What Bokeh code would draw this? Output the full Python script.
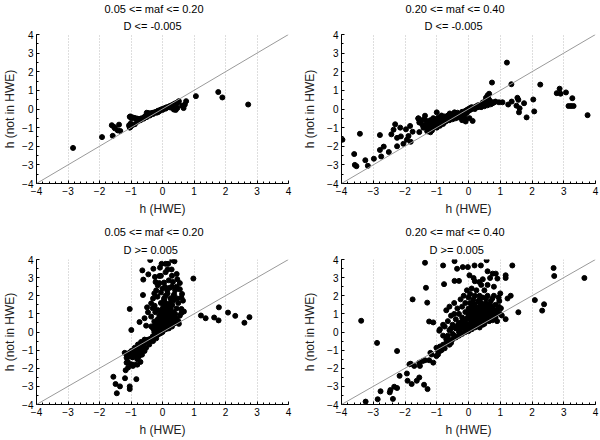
from bokeh.plotting import figure
from bokeh.models import Range1d, FixedTicker, Slope, Title
from bokeh.layouts import row, column
from bokeh.embed import file_html
from bokeh.resources import INLINE

# ---------------- data: (h (HWE), h (not in HWE)) ----------------
maf_lo_D_neg = [
    (-2.84, -2.09), (-1.92, -1.51), (-1.58, -1.44), (-1.61, -0.87), (-1.54, -0.96),
    (-1.38, -0.84), (-1.42, -1.15), (-1.34, -1.18), (-1.51, -1.04), (-1.04, -1.0),
    (-1.06, -0.87), (-1.01, -0.78), (-0.88, -0.82), (-1.04, -0.42), (-0.99, -0.49),
    (-1.05, -0.92), (-1.02, -0.97), (-0.97, -0.88),
    (0.75, 0.42), (0.71, 0.24), (0.62, 0.18), (0.67, 0.05), (0.42, -0.05), (0.47, 0.05),
    (0.36, -0.03), (1.06, 0.69), (1.77, 0.91), (1.90, 0.62), (2.72, 0.24),
    (-1.02, -0.40), (-0.95, -0.45), (-0.90, -0.48), (-0.85, -0.50), (-0.80, -0.52),
    (-0.75, -0.53), (-0.70, -0.52), (-0.65, -0.50), (-0.60, -0.47), (-0.55, -0.38),
    (-0.50, -0.30), (-0.50, -0.20), (-0.45, -0.22), (-0.40, -0.25), (-0.35, -0.22),
    (-0.30, -0.20), (-0.25, -0.18), (-0.20, -0.15), (-0.15, -0.10), (-0.10, -0.07),
    (-0.05, -0.03), (0.00, 0.00), (0.05, 0.03), (0.10, 0.07), (0.15, 0.10),
    (0.20, 0.13), (0.25, 0.17), (0.30, 0.20), (0.35, 0.25), (0.40, 0.30),
    (0.45, 0.33), (0.50, 0.38), (0.52, 0.42),
    (-0.80, -0.68), (-0.70, -0.60), (-0.60, -0.52), (-0.50, -0.43), (-0.40, -0.35),
    (-0.30, -0.27), (-0.20, -0.20), (-0.10, -0.12), (0.00, -0.05), (0.10, 0.02),
    (0.20, 0.10), (0.30, 0.15), (0.40, 0.25), (0.45, 0.30), (-0.15, -0.18),
    (0.25, 0.08), (-0.55, -0.45), (-0.45, -0.30),
]

maf_hi_D_neg = [
    (-3.97, -1.65), (-3.60, -2.42), (-3.58, -3.00), (-3.53, -3.07), (-3.42, -1.33),
    (-3.25, -2.75), (-3.17, -3.05), (-2.98, -2.67), (-2.79, -1.40), (-2.75, -2.55),
    (-2.79, -2.20), (-2.67, -2.02), (-2.51, -2.31), (-2.43, -1.36), (-2.31, -0.82),
    (-2.36, -1.11), (-2.25, -1.55), (-2.25, -2.00), (-2.15, -1.00), (-2.13, -1.47),
    (-2.05, -1.87), (-1.97, -1.09), (-1.94, -1.65), (-1.89, -1.45), (-1.84, -0.91),
    (-1.82, -1.76), (-1.76, -1.22), (-1.58, -0.51), (-1.53, -0.73), (-1.55, -1.24),
    (-1.42, -1.00), (-1.37, -0.36), (-1.32, -0.64), (-1.29, -1.18), (-1.22, -0.82),
    (-1.11, -0.49), (-1.00, -0.18), (-0.59, -0.24), (-0.44, -0.18), (-0.12, -0.49),
    (0.03, -0.49), (0.13, -0.64), (-0.09, -0.67), (0.74, 1.42), (1.21, 2.49),
    (1.35, 1.33), (1.07, 0.36), (1.25, 0.24), (1.36, 0.40), (1.54, 0.60),
    (1.57, 0.49), (1.51, 0.18), (1.61, 0.04), (1.59, -0.18), (1.75, 0.31),
    (1.83, -0.45), (2.04, 0.51), (2.07, -0.13), (2.26, 1.31), (2.78, 0.85),
    (2.87, 1.09), (2.90, 0.82), (3.07, 0.89), (3.27, 0.58), (3.15, 0.16),
    (3.23, 0.16), (3.31, 0.16), (3.75, -0.33), (0.81, 0.36), (0.96, 0.36),
    (0.60, 0.73), (0.65, 0.82),
    (-1.58, -0.50), (-1.55, -0.72), (-1.50, -0.60), (-1.45, -0.85), (-1.40, -0.55),
    (-1.35, -0.90), (-1.30, -0.70), (-1.25, -1.05), (-1.20, -0.60), (-1.20, -0.90),
    (-1.15, -1.15), (-1.10, -0.75), (-1.10, -1.00), (-1.05, -0.55), (-1.05, -0.90),
    (-1.00, -0.70), (-1.00, -1.00), (-0.95, -0.45), (-0.95, -0.85), (-0.90, -0.60),
    (-0.90, -0.90), (-0.85, -0.35), (-0.85, -0.75), (-0.80, -0.55), (-0.80, -0.80),
    (-0.75, -0.40), (-0.75, -0.70), (-0.70, -0.50), (-0.70, -0.65), (-0.65, -0.35),
    (-0.65, -0.60), (-0.60, -0.45), (-0.60, -0.60), (-0.55, -0.30), (-0.55, -0.50),
    (-0.50, -0.40), (-0.50, -0.55), (-0.45, -0.25), (-0.45, -0.45), (-0.40, -0.35),
    (-0.40, -0.50), (-0.35, -0.20), (-0.35, -0.40), (-0.30, -0.30), (-0.30, -0.45),
    (-0.25, -0.25), (-0.25, -0.35), (-0.20, -0.15), (-0.20, -0.30), (-0.15, -0.20),
    (-0.10, -0.10), (-0.10, -0.25), (-0.05, -0.05), (-0.05, -0.20), (0.00, -0.10),
    (0.00, 0.00), (0.05, -0.05), (0.05, 0.05), (0.10, 0.00), (0.10, 0.10),
    (0.15, 0.05), (0.20, 0.10), (0.20, 0.00), (0.25, 0.15), (0.30, 0.10),
    (0.30, 0.20), (0.35, 0.20), (0.40, 0.25), (0.40, 0.10), (0.45, 0.35),
    (0.50, 0.30), (0.50, 0.15), (0.55, 0.45), (0.60, 0.35), (0.60, 0.20),
    (0.65, 0.50), (0.70, 0.40), (0.70, 0.25), (0.55, 0.60), (0.62, 0.65),
    (0.75, 0.30), (0.85, 0.40), (-1.30, -1.20), (-1.20, -1.25), (-0.20, -0.60),
    (-0.15, -0.45),
]

maf_lo_D_pos = [
    (-0.39, 3.97), (0.10, 3.76), (0.18, 3.76), (0.31, 3.97), (0.38, 3.90),
    (-0.64, 3.40), (-0.29, 3.49), (-0.08, 3.55), (-0.03, 3.76), (0.16, 3.45),
    (0.29, 3.45), (-0.45, 3.18), (-0.61, 2.89), (-0.24, 3.04), (-0.10, 3.09),
    (0.98, 2.95), (0.47, 2.91), (0.33, 2.76), (-0.22, 2.76), (0.05, 2.73),
    (-0.15, 2.58), (0.08, 2.49), (0.23, 2.44), (0.55, 2.36), (-0.62, 2.04),
    (-0.26, 2.13), (-0.05, 2.18), (0.16, 2.13), (0.37, 2.07), (-0.16, 1.95),
    (0.05, 1.85), (0.47, 1.85), (0.65, 1.73), (-0.36, 1.58), (-1.04, 1.27),
    (-0.49, 1.36), (0.60, 1.27), (0.68, 1.13), (-0.31, 1.31), (-0.16, 1.22),
    (0.26, 1.31), (0.31, 1.49), (-0.46, 1.09), (-0.23, 1.09), (-0.03, 1.04),
    (0.16, 0.95), (0.37, 0.95), (-0.57, 0.76), (-0.36, 0.85), (-0.10, 0.76),
    (0.05, 0.76), (0.24, 0.67), (-0.73, 0.55), (-0.52, 0.35), (-0.26, 0.58),
    (-0.05, 0.49), (0.10, 0.58), (0.52, 0.45), (-0.99, 0.11), (-0.36, 0.31),
    (-0.21, 0.22), (-0.10, 0.13), (0.05, 0.31), (-0.26, 0.00), (0.00, 0.00),
    (-0.30, 0.20), (-0.25, 0.35), (-0.20, 0.10), (-0.20, 0.50), (-0.15, 0.30),
    (-0.15, 0.70), (-0.10, 0.05), (-0.10, 0.45), (-0.10, 0.90), (-0.05, 0.20),
    (-0.05, 0.60), (-0.05, 1.10), (0.00, 0.10), (0.00, 0.40), (0.00, 0.80),
    (0.00, 1.30), (0.05, 0.25), (0.05, 0.55), (0.05, 1.00), (0.10, 0.15),
    (0.10, 0.40), (0.10, 0.70), (0.10, 1.15), (0.10, 1.60), (0.15, 0.30),
    (0.15, 0.60), (0.15, 0.90), (0.20, 0.20), (0.20, 0.50), (0.20, 0.80),
    (0.20, 1.20), (0.25, 0.35), (0.25, 0.65), (0.25, 1.05), (0.30, 0.30),
    (0.30, 0.55), (0.30, 0.85), (0.35, 0.45), (0.35, 0.75), (0.40, 0.50),
    (0.40, 1.00), (0.45, 0.70), (0.45, 1.30), (0.50, 0.60), (0.55, 0.90),
    (0.60, 1.05), (0.50, 1.60), (0.35, 1.75), (0.25, 1.60), (0.40, 2.30),
    (0.30, 2.50), (0.20, 2.85), (0.15, 2.30), (0.00, 2.40), (-0.10, 2.70),
    (-0.20, 2.30), (-0.30, 1.85), (-0.25, 1.45), (0.05, 1.75), (0.60, 1.90),
    (0.55, 2.70), (0.45, 2.50), (-0.05, 3.10), (0.10, 3.30), (0.30, 3.10),
    (0.45, 3.20), (0.35, 2.00), (0.62, 2.10),
    (-0.20, 0.00), (-0.05, 0.35), (0.05, 0.65), (0.15, 0.45), (0.25, 0.90),
    (0.35, 1.10), (0.20, 1.40), (0.00, 0.95), (-0.15, 0.50), (0.30, 0.70),
    (0.40, 0.75), (0.15, 1.30), (0.05, 1.45), (-0.05, 1.60), (0.25, 1.85),
    (0.10, 2.00),
    (-0.05, -0.05), (-0.10, -0.10), (-0.15, -0.15), (-0.20, -0.20), (-0.25, -0.20),
    (-0.30, -0.30), (-0.35, -0.35), (-0.40, -0.40), (-0.45, -0.42), (-0.50, -0.45),
    (-0.55, -0.55), (-0.60, -0.60), (-0.65, -0.70), (-0.70, -0.72), (-0.75, -0.80),
    (-0.80, -0.85), (-0.85, -0.95), (-0.90, -1.00), (-0.95, -1.05), (-1.00, -1.10),
    (-1.05, -1.15), (-1.10, -1.20), (-1.15, -1.20),
    (-0.68, -0.55), (-0.78, -0.69), (-0.88, -0.87), (-0.99, -1.05), (-1.09, -1.24),
    (-1.14, -1.42), (-0.99, -1.24), (-0.88, -1.24), (-0.78, -1.05), (-0.68, -0.96),
    (-0.57, -1.05), (-0.52, -0.87), (-0.42, -0.69), (-0.47, -0.55), (-0.57, -0.42),
    (-0.36, -0.42), (-0.31, -0.24), (-0.30, -0.50), (-0.60, -0.90), (-0.20, -0.35),
    (-1.20, -1.15), (-1.10, -1.30), (-1.05, -1.35), (-0.95, -1.40), (-0.90, -1.10),
    (-0.85, -1.30), (-0.80, -1.50), (-0.75, -1.35), (-0.70, -1.20), (-0.65, -1.25),
    (-0.90, -1.80), (-0.70, -1.65), (-0.80, -1.80), (-1.10, -1.65),
    (-1.14, -1.69), (-1.09, -1.96), (-1.17, -2.11), (-0.99, -1.78), (-0.94, -1.87),
    (-0.83, -2.60), (-1.19, -2.55), (-1.56, -2.47), (-1.49, -2.87), (-1.35, -3.00),
    (-1.04, -3.00), (-1.04, -3.15), (-1.45, -3.38),
    (1.22, 0.91), (1.37, 0.76), (1.64, 0.80), (1.78, 0.64), (1.79, 1.36),
    (2.08, 1.07), (2.31, 0.89), (2.60, 0.51), (2.76, 0.82),
]

maf_hi_D_pos = [
    (-3.38, 0.62), (-2.88, -0.60), (-2.25, -1.05), (-3.24, -3.84), (-2.86, -3.71),
    (-2.77, -3.27), (-2.48, -3.33), (-2.46, -3.20), (-2.38, -3.69), (-2.34, -3.02),
    (-2.25, -3.09), (-2.17, -2.42), (-1.94, -2.29), (-1.92, -2.69), (-1.79, -2.87),
    (-1.63, -2.69), (-1.55, -2.51), (-1.40, -2.91), (-1.29, -3.15), (-1.86, -1.78),
    (-1.82, -1.75), (-1.71, -1.87), (-1.55, -1.69), (-1.44, -1.60), (-1.37, -1.56),
    (-1.24, -1.56), (-1.11, -1.69), (-1.53, -1.87), (-1.20, -1.15), (-1.01, -1.33),
    (-0.96, -1.05), (-1.01, -0.87), (-0.96, -1.24), (-0.90, -1.05), (-1.16, -1.24),
    (-1.76, 1.80), (-1.37, 3.82), (-1.34, 2.44), (-1.30, 1.62), (-1.24, 0.58),
    (-1.11, 0.53), (-0.92, 0.07), (-0.80, 3.67), (-0.77, 2.64), (-0.44, 3.91),
    (-0.36, 3.49), (-0.18, 3.58), (-0.02, 3.58), (0.19, 3.67), (0.39, 3.67),
    (0.57, 3.96), (0.60, 3.35), (0.76, 3.22), (0.86, 3.22), (0.91, 2.95),
    (1.17, 3.13), (1.17, 2.98), (1.38, 3.67), (-0.44, 2.82), (-0.30, 2.82),
    (0.03, 3.13), (0.16, 2.98), (0.34, 2.76), (0.45, 2.91), (0.68, 2.98),
    (2.68, 3.53), (2.70, 3.09), (3.65, 2.98), (2.09, 1.76), (2.38, 1.53),
    (2.32, 1.18), (1.57, 1.09), (1.17, 0.71), (1.05, 0.91), (1.02, 1.31),
    (1.33, 2.00), (1.23, 1.85), (1.00, 2.13), (0.97, 1.71),
    (-0.90, -0.80), (-0.80, -0.70), (-0.70, -0.60), (-0.60, -0.45), (-0.50, -0.40),
    (-0.40, -0.30), (-0.30, -0.20), (-0.20, -0.10), (-0.10, 0.00), (0.00, 0.05),
    (0.10, 0.15), (0.20, 0.25), (0.30, 0.35), (0.40, 0.45), (0.50, 0.55),
    (0.60, 0.65), (0.70, 0.80), (0.80, 0.90), (-0.75, -0.90), (-0.85, -1.00),
    (-0.60, -0.70), (-0.55, -0.60),
    (-0.90, 0.15), (-0.80, -0.20), (-0.75, 0.30), (-0.70, -0.40), (-0.65, 0.60),
    (-0.60, 0.10), (-0.55, 0.90), (-0.50, -0.10), (-0.50, 0.40), (-0.45, 1.00),
    (-0.45, 1.60), (-0.40, 0.20), (-0.40, 0.70), (-0.35, 1.30), (-0.30, 0.00),
    (-0.30, 0.50), (-0.30, 1.00), (-0.25, 1.80), (-0.20, 0.30), (-0.20, 0.80),
    (-0.20, 1.40), (-0.15, 2.00), (-0.10, 0.20), (-0.10, 0.60), (-0.10, 1.10),
    (-0.10, 1.60), (-0.05, 2.30), (0.00, 0.40), (0.00, 0.90), (0.00, 1.30),
    (0.00, 1.90), (0.05, 0.20), (0.05, 0.70), (0.05, 1.60), (0.05, 2.10),
    (0.10, 0.50), (0.10, 1.00), (0.10, 1.40), (0.10, 2.40), (0.15, 0.30),
    (0.15, 0.80), (0.15, 1.20), (0.15, 1.80), (0.20, 0.60), (0.20, 1.00),
    (0.20, 1.50), (0.20, 2.00), (0.25, 0.40), (0.25, 0.85), (0.25, 1.30),
    (0.25, 2.30), (0.30, 0.70), (0.30, 1.10), (0.30, 1.70), (0.35, 0.55),
    (0.35, 0.95), (0.35, 1.40), (0.35, 2.00), (0.40, 0.80), (0.40, 1.20),
    (0.40, 1.60), (0.45, 0.60), (0.45, 1.00), (0.45, 1.90), (0.50, 0.80),
    (0.50, 1.30), (0.50, 2.30), (0.55, 0.70), (0.55, 1.10), (0.55, 1.60),
    (0.60, 0.90), (0.60, 1.40), (0.60, 2.00), (0.65, 0.80), (0.65, 1.20),
    (0.70, 1.00), (0.70, 1.70), (0.75, 1.30), (0.80, 1.10), (0.80, 2.00),
    (0.85, 1.50), (0.90, 1.20), (0.95, 1.90), (0.20, 2.80), (0.40, 2.60),
    (0.60, 2.60), (0.80, 2.50), (-0.60, 1.40), (-0.70, 1.20), (-0.80, 0.40),
    (0.90, 0.60), (1.00, 1.00), (0.75, 0.65), (0.85, 0.80),
    (-0.25, 0.15), (-0.15, 0.45), (-0.05, 0.75), (0.05, 1.05), (0.15, 0.55),
    (0.25, 1.10), (0.35, 0.25), (0.45, 0.40), (0.55, 0.95), (0.65, 1.50),
    (0.75, 0.95), (0.85, 1.20), (0.05, 0.45), (0.15, 1.00), (0.25, 0.60),
    (0.35, 1.15), (0.45, 1.45), (0.55, 1.30), (0.65, 0.60), (-0.05, 0.35),
    (0.10, 0.75), (0.30, 0.90), (0.50, 1.05), (0.60, 1.20), (0.40, 1.35),
    (0.20, 1.25), (0.00, 1.10), (-0.20, 0.60), (0.30, 0.50), (0.50, 0.45),
    (0.70, 1.45), (0.85, 1.00), (0.95, 1.40), (0.15, 1.55), (0.35, 1.80),
    (0.55, 1.85), (0.75, 1.85), (-0.35, 0.35), (-0.55, 0.20), (-0.65, -0.20),
    (-0.45, -0.20),
]

tick_values = [-4, -3, -2, -1, 0, 1, 2, 3, 4]
x_minor = [i / 5 for i in range(-20, 21)]
y_minor = [i / 2 for i in range(-8, 9)]

panels = [
    # data, title line 1, title line 2
    (maf_lo_D_neg, "0.05 <= maf <= 0.20", "D <= -0.005"),
    (maf_hi_D_neg, "0.20 <= maf <= 0.40", "D <= -0.005"),
    (maf_lo_D_pos, "0.05 <= maf <= 0.20", "D >= 0.005"),
    (maf_hi_D_pos, "0.20 <= maf <= 0.40", "D >= 0.005"),
]
x_label = "h (HWE)"
y_label = "h (not in HWE)"

FONT = "Liberation Sans"


def make_panel(data, line1, line2, width, height, left, right, top, bottom,
               off1, off2, title_gap, ylab_standoff):
    p = figure(width=width, height=height, x_range=Range1d(-4, 4), y_range=Range1d(-4, 4),
               output_backend="svg", toolbar_location=None,
               min_border_left=left, min_border_right=right,
               min_border_top=top, min_border_bottom=bottom)
    p.outline_line_color = None
    p.background_fill_color = "white"
    p.border_fill_color = "white"

    # two-line title: p.title is the outer line, the added Title sits next to the frame
    p.title.text = line1
    p.title.align = "left"
    p.title.offset = off1
    p.title.standoff = 0
    p.title.text_font = FONT
    p.title.text_font_size = "11px"
    p.title.text_font_style = "normal"
    p.title.text_color = "#000000"
    p.add_layout(Title(text=line2, align="left", offset=off2, standoff=title_gap,
                       text_font=FONT, text_font_size="11px", text_font_style="normal",
                       text_color="#000000"), "above")

    for ax, minor in ((p.xaxis, x_minor), (p.yaxis, y_minor)):
        ax.ticker = FixedTicker(ticks=tick_values, minor_ticks=minor)
        ax.axis_line_color = "#000000"
        ax.axis_line_width = 1
        ax.major_tick_in = 3
        ax.major_tick_out = 0
        ax.minor_tick_in = 2
        ax.minor_tick_out = 0
        ax.major_tick_line_color = "#000000"
        ax.minor_tick_line_color = "#000000"
        ax.major_label_text_font = FONT
        ax.major_label_text_font_size = "10px"
        ax.major_label_text_color = "#000000"
        ax.major_label_standoff = 3
        ax.axis_label_text_font = FONT
        ax.axis_label_text_font_size = "12px"
        ax.axis_label_text_font_style = "normal"
        ax.axis_label_text_color = "#222222"

    p.xaxis.axis_label = x_label
    p.xaxis.axis_label_standoff = 4
    p.yaxis.axis_label = y_label
    p.yaxis.axis_label_standoff = ylab_standoff

    p.xgrid.grid_line_color = "#bdbdbd"
    p.xgrid.grid_line_dash = "1 2"
    p.xgrid.grid_line_width = 1
    p.ygrid.grid_line_color = None

    p.add_layout(Slope(gradient=1, y_intercept=0, line_color="#9a9a9a", line_width=1))

    xs = [d[0] for d in data]
    ys = [d[1] for d in data]
    p.scatter(xs, ys, size=5, fill_color="#000000", line_color="#000000")
    return p


p1 = make_panel(*panels[0], width=300, height=220, left=32, right=12, top=34, bottom=37,
                off1=68, off2=87, title_gap=6, ylab_standoff=2)
p2 = make_panel(*panels[1], width=299, height=220, left=38, right=4, top=34, bottom=37,
                off1=64, off2=83, title_gap=6, ylab_standoff=7)
p3 = make_panel(*panels[2], width=300, height=219, left=32, right=12, top=39, bottom=31,
                off1=68, off2=87, title_gap=8, ylab_standoff=2)
p4 = make_panel(*panels[3], width=299, height=219, left=38, right=4, top=39, bottom=31,
                off1=64, off2=88, title_gap=8, ylab_standoff=7)

layout = column(row(p1, p2), row(p3, p4))

with open("out.html", "w") as f:
    f.write(file_html(layout, INLINE))
